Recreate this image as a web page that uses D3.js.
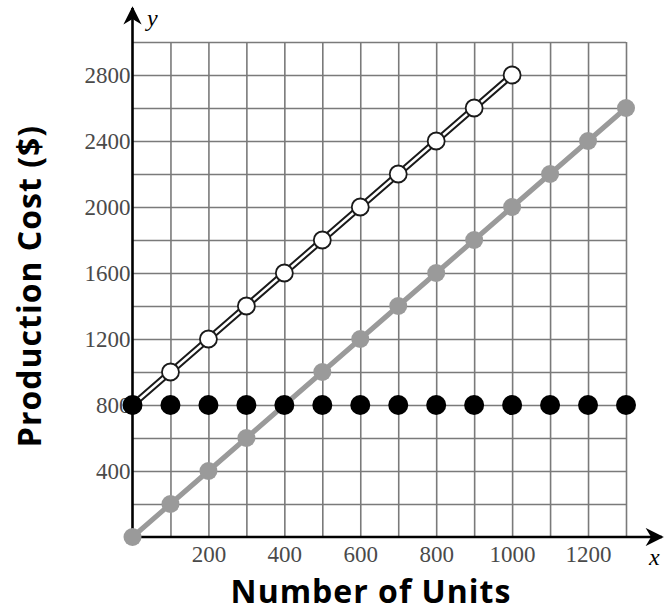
<!DOCTYPE html>
<html>
<head>
<meta charset="utf-8">
<script src="https://cdn.jsdelivr.net/npm/d3@7"></script>
<style>
  body { margin: 0; background: #fff; }
  .tick text { font-family: "Liberation Serif", "Times New Roman", serif; font-size: 23px; fill: #4a4a4a; }
  .title { font-family: "Open Sans", sans-serif; font-weight: bold; font-size: 32px; letter-spacing: 1px; fill: #000; }
  .axname { font-family: "Liberation Serif", serif; font-style: italic; font-size: 24px; fill: #000; }
</style>
</head>
<body>
<svg width="665" height="614"></svg>
<script>
// data
let units = [0, 100, 200, 300, 400, 500, 600, 700, 800, 900, 1000, 1100, 1200, 1300];
let fixedCost = [800, 800, 800, 800, 800, 800, 800, 800, 800, 800, 800, 800, 800, 800];
let variableCost = [0, 200, 400, 600, 800, 1000, 1200, 1400, 1600, 1800, 2000, 2200, 2400, 2600];
let totalUnits = [0, 100, 200, 300, 400, 500, 600, 700, 800, 900, 1000];
let totalCost = [800, 1000, 1200, 1400, 1600, 1800, 2000, 2200, 2400, 2600, 2800];
let xTicks = [200, 400, 600, 800, 1000, 1200];
let yTicks = [400, 800, 1200, 1600, 2000, 2400, 2800];
let xGridVals = [100, 200, 300, 400, 500, 600, 700, 800, 900, 1000, 1100, 1200, 1300];
let yGridVals = [200, 400, 600, 800, 1000, 1200, 1400, 1600, 1800, 2000, 2200, 2400, 2600, 2800, 3000];

let svg = d3.select("svg"),
    margin = {top: 42, left: 132.5},
    width = 626 - margin.left,
    height = 537 - margin.top,
    g = svg.append("g").attr("transform", "translate(" + margin.left + "," + margin.top + ")");

let x = d3.scaleLinear().domain([0, 1300]).range([0, width]);
let y = d3.scaleLinear().domain([0, 3000]).range([height, 0]);

// grid
let gx = g.append("g")
    .attr("transform", "translate(0," + height + ")")
    .call(d3.axisBottom(x).tickValues(xGridVals).tickSize(-height).tickFormat(""));
let gy = g.append("g")
    .call(d3.axisLeft(y).tickValues(yGridVals).tickSize(-width).tickFormat(""));
[gx, gy].forEach(function(a) {
  a.select(".domain").remove();
  a.selectAll("line").attr("stroke", "#7a7a7a").attr("stroke-width", 1.6);
});

// tick labels
let lx = g.append("g")
    .attr("transform", "translate(0," + height + ")")
    .call(d3.axisBottom(x).tickValues(xTicks).tickSize(0).tickPadding(8).tickFormat(d3.format("d")));
lx.select(".domain").remove();
lx.selectAll("text").attr("dy", "0.75em");

let ly = g.append("g")
    .call(d3.axisLeft(y).tickValues(yTicks).tickSize(0).tickPadding(2).tickFormat(d3.format("d")));
ly.select(".domain").remove();

// arrows for the axes
let defs = svg.append("defs");
defs.append("marker")
    .attr("id", "arrow")
    .attr("viewBox", "0 0 10 10")
    .attr("refX", 9).attr("refY", 5)
    .attr("markerWidth", 8.5).attr("markerHeight", 7)
    .attr("markerUnits", "strokeWidth")
    .attr("orient", "auto")
    .append("path")
    .attr("d", "M0,0 L10,5 L0,10 L3,5 Z")
    .attr("fill", "#000");

g.append("line")
    .attr("x1", 0).attr("y1", height)
    .attr("x2", 662 - margin.left).attr("y2", height)
    .attr("stroke", "#000").attr("stroke-width", 2.6)
    .attr("marker-end", "url(#arrow)");
g.append("line")
    .attr("x1", 0).attr("y1", height)
    .attr("x2", 0).attr("y2", 8 - margin.top)
    .attr("stroke", "#000").attr("stroke-width", 2.6)
    .attr("marker-end", "url(#arrow)");

svg.append("text").attr("class", "axname").attr("x", 147).attr("y", 26).text("y");
svg.append("text").attr("class", "axname").attr("x", 649).attr("y", 565).text("x");

// variable cost (gray)
let varData = units.map(function(u, i) { return {u: u, c: variableCost[i]}; });
let line = d3.line().x(function(d) { return x(d.u); }).y(function(d) { return y(d.c); });
g.append("path").datum(varData)
    .attr("d", line)
    .attr("fill", "none").attr("stroke", "#9a9a9a").attr("stroke-width", 5);
g.selectAll(".vdot").data(varData).enter().append("circle")
    .attr("cx", function(d) { return x(d.u); })
    .attr("cy", function(d) { return y(d.c); })
    .attr("r", 9)
    .attr("fill", "#9a9a9a");

// total cost (open circles, double line)
let totData = totalUnits.map(function(u, i) { return {u: u, c: totalCost[i]}; });
g.append("path").datum(totData)
    .attr("d", line)
    .attr("fill", "none").attr("stroke", "#1a1a1a").attr("stroke-width", 6.5);
g.append("path").datum(totData)
    .attr("d", line)
    .attr("fill", "none").attr("stroke", "#fff").attr("stroke-width", 2.5);
g.selectAll(".tdot").data(totData).enter().append("circle")
    .attr("cx", function(d) { return x(d.u); })
    .attr("cy", function(d) { return y(d.c); })
    .attr("r", 8.5)
    .attr("fill", "#fff").attr("stroke", "#1a1a1a").attr("stroke-width", 1.8);

// fixed cost (black dots)
let fixData = units.map(function(u, i) { return {u: u, c: fixedCost[i]}; });
g.selectAll(".fdot").data(fixData).enter().append("circle")
    .attr("cx", function(d) { return x(d.u); })
    .attr("cy", function(d) { return y(d.c); })
    .attr("r", 10)
    .attr("fill", "#000");

// titles
svg.append("text").attr("class", "title")
    .attr("x", 371).attr("y", 603)
    .attr("text-anchor", "middle")
    .text("Number of Units");
svg.append("text").attr("class", "title")
    .attr("transform", "translate(41,286) rotate(-90)")
    .attr("text-anchor", "middle")
    .text("Production Cost ($)");
</script>
</body>
</html>
